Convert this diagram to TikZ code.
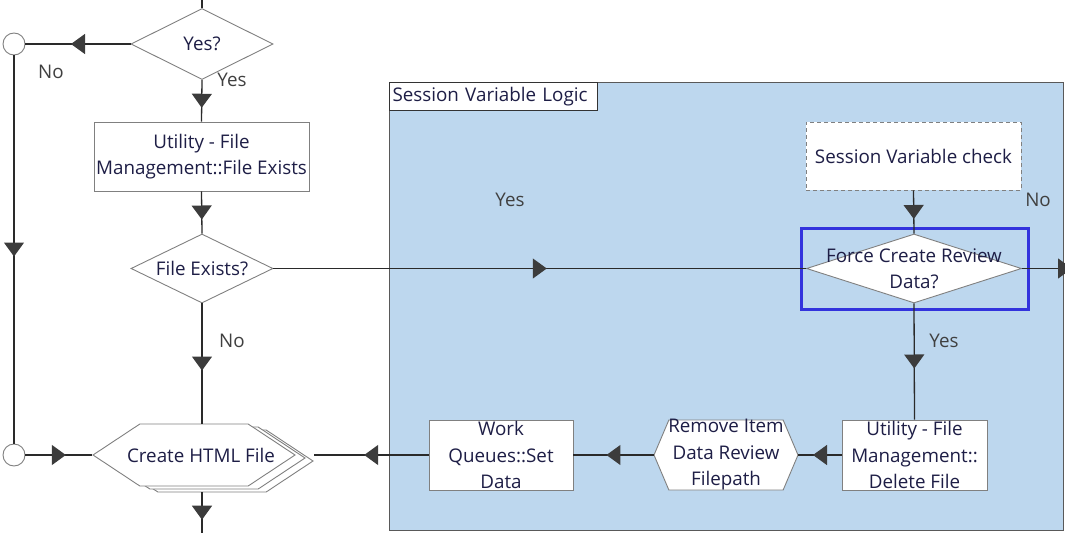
\documentclass[tikz,border=0pt]{standalone}
\usepackage{fontspec}
\setmainfont{Open Sans}
\usetikzlibrary{shapes.geometric, shapes.symbols, positioning, arrows.meta, decorations.markings}
\definecolor{panelblue}{HTML}{BDD7EE}
\definecolor{inktext}{HTML}{1E1E46}
\definecolor{linegray}{HTML}{2A2A2A}
\definecolor{edgegray}{HTML}{808080}
\definecolor{tipgray}{HTML}{3C3C3C}
\definecolor{selblue}{HTML}{3333DD}
\tikzset{
    every node/.style={font=\fontsize{18.8}{26.5}\selectfont, text=inktext},
    flow/.style={draw=linegray, line width=1.3pt},
    midarrow/.style={flow, postaction={decorate},
        decoration={markings, mark=at position 0.5 with
            {\arrow[xshift=7pt]{Triangle[length=14pt, width=20pt, color=tipgray]}}}},
    boxtext/.style={align=center, inner sep=0pt},
    procbox/.style={draw=edgegray, fill=white, line width=0.9pt, inner sep=0pt,
        minimum width=215, minimum height=69},
    checkbox/.style={procbox, dashed, dash pattern=on 4pt off 3pt},
    decision/.style={diamond, draw=edgegray, fill=white, line width=0.9pt, inner sep=0pt,
        minimum width=142, minimum height=71},
    hexa/.style={shape=signal, signal to=west and east, draw=edgegray, fill=white,
        line width=0.9pt, inner sep=0pt},
    term/.style={circle, draw=edgegray, fill=white, line width=0.9pt, inner sep=0pt,
        minimum size=22},
    lbl/.style={text=black!75},
}

\begin{document}
\begin{tikzpicture}[x=1pt, y=-1pt]
    \useasboundingbox (0,0) rectangle (1065,533);

    % session variable panel
    \node[draw=black!65, fill=panelblue, line width=1pt, anchor=north west,
        minimum width=674, minimum height=448, inner sep=0pt] (svlpanel) at (389,82) {};
    \node[draw=black!80, fill=white, line width=1pt, anchor=north west,
        minimum width=208, minimum height=28, inner sep=3pt, text width=202pt]
        (svltitle) at (svlpanel.north west) {Session Variable Logic};

    % left column
    \coordinate (topin) at (202,-5);
    \node[decision, label={[boxtext]center:Yes?}] (yesq) at (202,44) {};
    \node[term] (ctop) at (14,44) {};
    \node[procbox, label={[boxtext]center:{Utility - File\\Management::File Exists}}]
        (fexbox) at (201.5,156.5) {};
    \node[decision, minimum height=69, label={[boxtext]center:File Exists?}]
        (fexq) at (202,268.5) {};
    \node[term] (cbot) at (14,455) {};
    \node[hexa, signal pointer angle=67, minimum width=202, minimum height=62]
        (htmlback) at (212,461) {};
    \node[hexa, signal pointer angle=67, minimum width=202, minimum height=62]
        (htmlmid) at (204,458) {};
    \node[hexa, signal pointer angle=67, minimum width=202, minimum height=62,
        label={[boxtext, xshift=7pt]center:Create HTML File}] (html) at (194,455) {};
    \coordinate (htmlout) at (202,533);

    % inside the panel
    \node[checkbox, minimum height=68, label={[boxtext]center:Session Variable check}]
        (sesscheck) at (913.5,156) {};
    \node[decision, minimum width=215, minimum height=69,
        label={[boxtext]center:{Force Create Review\\Data?}}] (forceq) at (914,268.5) {};
    \node[draw=selblue, line width=3pt, minimum width=227, minimum height=81,
        inner sep=0pt] (forcesel) at (914.5,268.5) {};
    \coordinate (forceout) at (1072,268.5);
    \node[procbox, minimum width=145, minimum height=70,
        label={[boxtext]center:{Utility - File\\Management::\\Delete File}}]
        (delfile) at (914.5,455) {};
    \node[hexa, signal pointer angle=134, minimum width=144, minimum height=70,
        label={[boxtext]center:{Remove Item\\Data Review\\Filepath}}]
        (rmpath) at (726,455) {};
    \node[procbox, minimum width=144, minimum height=70,
        label={[boxtext]center:{Work\\Queues::Set\\Data}}] (setdata) at (501,455) {};

    % labels
    \node[lbl] (nolbltop) at (51,72) {No};
    \node[lbl] (yeslbltop) at (232,80) {Yes};
    \node[lbl] (nolblfex) at (232,341) {No};
    \node[lbl] (yeslblfex) at (510,200) {Yes};
    \node[lbl] (nolblforce) at (1038,200) {No};
    \node[lbl] (yeslblforce) at (944,341) {Yes};

    % connectors
    \draw[flow] (topin) -- (yesq.north);
    \draw[midarrow] (yesq.west) -- (ctop);
    \draw[midarrow] (yesq.south) -- (fexbox.north);
    \draw[midarrow] (fexbox.south) -- (fexq.north);
    \draw[midarrow] (ctop) -- (cbot);
    \draw[midarrow] (cbot) -- (html.west);
    \draw[midarrow] (fexq.south) -- (fexq.south |- html.north);
    \draw[midarrow] (fexq |- htmlback.south) -- (htmlout);
    \draw[midarrow] (fexq.east) -- (forceq.west);
    \draw[midarrow] (sesscheck.south) -- (forceq.north);
    \draw[flow, -{Triangle[length=14pt, width=20pt, color=tipgray]}] (forceq.east) -- (forceout);
    \draw[midarrow] (forceq.south) -- (delfile.north);
    \draw[midarrow] (delfile.west) -- (rmpath.east);
    \draw[midarrow] (rmpath.west) -- (setdata.east);
    \draw[midarrow] (setdata.west) -- (setdata.west -| htmlback.east);
\end{tikzpicture}
\end{document}
